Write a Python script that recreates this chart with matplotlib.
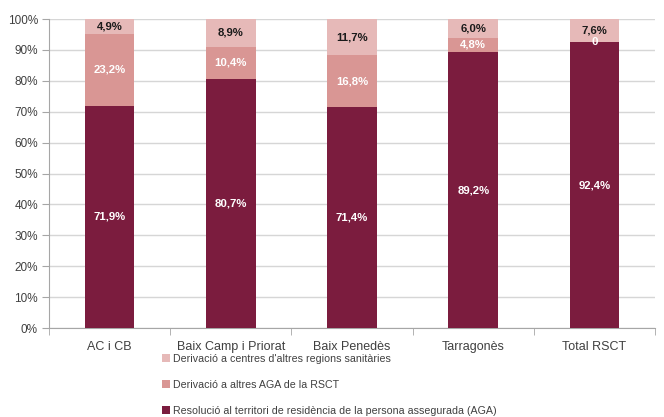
import numpy as np
import matplotlib
matplotlib.use("Agg")
import matplotlib.pyplot as plt

# Percentatges per AGA (resolució, derivació RSCT, altres regions)
categories = ["AC i CB", "Baix Camp i Priorat", "Baix Penedès", "Tarragonès", "Total RSCT"]
resolucio = [71.9, 80.7, 71.4, 89.2, 92.4]
derivacio_rsct = [23.2, 10.4, 16.8, 4.8, 0.0]
derivacio_altres = [4.9, 8.9, 11.7, 6.0, 7.6]

series_names = [
    "Resolució al territori de residència de la persona assegurada (AGA)",
    "Derivació a altres AGA de la RSCT",
    "Derivació a centres d'altres regions sanitàries",
]
colors = ["#7B1C3E", "#D99694", "#E6B9B8"]
label_colors = ["white", "white", "#1a1a1a"]

plt.rcParams["font.family"] = ["Liberation Sans", "DejaVu Sans"]

fig = plt.figure(figsize=(6.64, 4.17), dpi=100)
ax = fig.add_axes([0.0738, 0.2134, 0.9127, 0.741])

x = np.arange(len(categories))
width = 0.41
bottom = np.zeros(len(categories))
handles = []
for vals, name, col, lcol in zip([resolucio, derivacio_rsct, derivacio_altres],
                                 series_names, colors, label_colors):
    vals = np.array(vals)
    b = ax.bar(x, vals, width, bottom=bottom, color=col, edgecolor="none", zorder=3)
    handles.append(b)
    for xi, v, bt in zip(x, vals, bottom):
        txt = "0" if v == 0 else f"{v:.1f}%".replace(".", ",")
        ax.text(xi, bt + v / 2, txt, ha="center", va="center", color=lcol,
                fontsize=8.2, fontweight="bold", zorder=4)
    bottom = bottom + vals

ax.set_xlim(-0.5, len(categories) - 0.5)
ax.set_ylim(0, 100)
ax.set_yticks(np.arange(0, 101, 10))
ax.set_yticklabels([f"{t}%" for t in range(0, 101, 10)])
ax.set_xticks(x)
ax.set_xticklabels(categories)
ax.set_xticks(np.arange(-0.5, len(categories)), minor=True)
ax.tick_params(axis="x", which="major", length=0, pad=9, labelsize=9, colors="#404040")
ax.tick_params(axis="x", which="minor", length=5, color="#A6A6A6")
ax.tick_params(axis="y", length=5, color="#A6A6A6", labelsize=8.5, labelcolor="#404040", pad=3)
ax.yaxis.grid(True, color="#D6D6D6", linewidth=1, zorder=0)
for s in ["top", "right"]:
    ax.spines[s].set_visible(False)
for s in ["left", "bottom"]:
    ax.spines[s].set_color("#A6A6A6")

leg = fig.legend(handles[::-1], series_names[::-1], loc="upper left",
                 bbox_to_anchor=(0.23, 0.175), frameon=False, fontsize=7.7,
                 handlelength=0.7, handleheight=0.7, handletextpad=0.3,
                 labelspacing=1.5, labelcolor="#404040")

fig.savefig("out.png", dpi=100)
